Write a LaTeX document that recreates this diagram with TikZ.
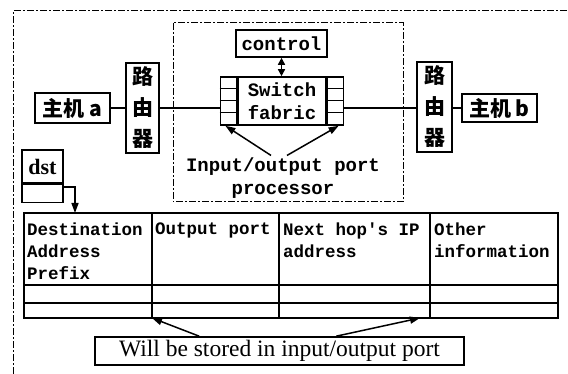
\documentclass[tikz,border=0pt]{standalone}
\usepackage{fontspec}
\setmainfont{Liberation Serif}
\newfontfamily\cjk{Noto Sans CJK SC}
\newfontfamily\mono{Liberation Mono}
\usetikzlibrary{arrows.meta,calc}
\begin{document}
\begin{tikzpicture}[x=1pt,y=-1pt,
  box/.style={draw,line width=1.6pt,inner sep=0pt},
  conn/.style={line width=1.5pt},
  tip/.style={-{Triangle[length=10pt,width=7pt]}},
  dashbox/.style={line width=1pt,dash pattern=on 7pt off 2pt on 2pt off 2pt},
  monotxt/.style={font=\mono\bfseries\fontsize{19}{23}\selectfont},
  tabtxt/.style={font=\mono\bfseries\fontsize{17.5}{22}\selectfont,align=left,anchor=north west,inner sep=0pt}]
\useasboundingbox (0,0) rectangle (568,374);
% frames
\draw[dashbox] (13,374) -- (13,11) -- (568,11);
\draw[dashbox] (173,23) rectangle (403,202);
% hosts and routers
\node[box,minimum width=75pt,minimum height=30pt,font=\cjk\bfseries\fontsize{21}{22}\selectfont] (ha) at (72.5,108) {主机 a};
\node[box,minimum width=33pt,minimum height=90pt,align=center,font=\cjk\bfseries\fontsize{21}{31}\selectfont] (rl) at (142.5,108) {路\\由\\器};
\node[box,minimum width=35pt,minimum height=90pt,align=center,font=\cjk\bfseries\fontsize{21}{31}\selectfont] (rr) at (434.5,107) {路\\由\\器};
\node[box,minimum width=75pt,minimum height=28pt,font=\cjk\bfseries\fontsize{21}{22}\selectfont] (hb) at (499.5,108) {主机 b};
% switch fabric
\node[box,minimum width=88pt,minimum height=48pt,align=center,monotxt] (sw) at (282,101) {Switch\\fabric};
\node[box,minimum width=16pt,minimum height=48pt,anchor=east] (pl) at (sw.west) {};
\node[box,minimum width=16pt,minimum height=48pt,anchor=west] (pr) at (sw.east) {};
\foreach \k in {1,2,3}{
  \draw[line width=1pt] ($(pl.north west)+(0,12*\k)$) -- ($(pl.north east)+(0,12*\k)$);
  \draw[line width=1pt] ($(pr.north west)+(0,12*\k)$) -- ($(pr.north east)+(0,12*\k)$);
}
\node[box,minimum width=91pt,minimum height=27pt,monotxt] (ctl) at (281.5,43.5) {control};
\draw[conn,{Triangle[length=7pt,width=7pt]}-{Triangle[length=7pt,width=7pt]}] (ctl.south) -- (ctl.south |- sw.north);
\node[monotxt,align=center,inner sep=0pt] (iop) at (283,178) {Input/output port\\processor};
\draw[conn,tip] ($(iop.north)+(-12,-2)$) -- ($(pl.south)+(-3,0)$);
\draw[conn,tip] ($(iop.north)+(4,-2)$) -- ($(pr.south)+(3,0)$);
% main line
\draw[conn] (ha.east) -- (rl.west |- ha.east);
\draw[conn] (rl.east |- ha.east) -- (pl.west |- ha.east);
\draw[conn] (pr.east |- ha.east) -- (rr.west |- ha.east);
\draw[conn] (rr.east |- hb.west) -- (hb.west);
% dst
\node[box,minimum width=41pt,minimum height=33pt,font=\bfseries\fontsize{22}{22}\selectfont] (dst) at (42.5,166.5) {dst};
\node[box,minimum width=41pt,minimum height=18pt,anchor=north] (dst2) at (dst.south) {};
\coordinate (ttop) at (75,213);
\draw[conn,tip] ($(dst2.north east)+(0,3)$) -| (ttop);
% table
\draw[line width=1.6pt] (24,213) rectangle (558,318);
\draw[line width=1.6pt] (24,285) -- (558,285);
\draw[line width=1.4pt] (24,303) -- (558,303);
\foreach \xx in {152,279,430}{\draw[line width=1.6pt] (\xx,213) -- (\xx,318);}
\node[tabtxt] (c1) at (27,223) {Destination\\Address\\Prefix};
\node[tabtxt] (c2) at (155,223) {Output port};
\node[tabtxt] (c3) at (283,223) {Next hop's IP\\address};
\node[tabtxt] (c4) at (434,223) {Other\\information};
\coordinate (tb1) at (152,318);
\coordinate (tb2) at (420,318);
% bottom note
\node[box,minimum width=369pt,minimum height=28pt,font=\fontsize{23.5}{24}\selectfont] (store) at (279.5,351) {Will be stored in input/output port};
\draw[conn,tip] ($(store.north west)+(105,0)$) -- (tb1);
\draw[conn,tip] ($(store.north west)+(242,0)$) -- (tb2);
\end{tikzpicture}
\end{document}
